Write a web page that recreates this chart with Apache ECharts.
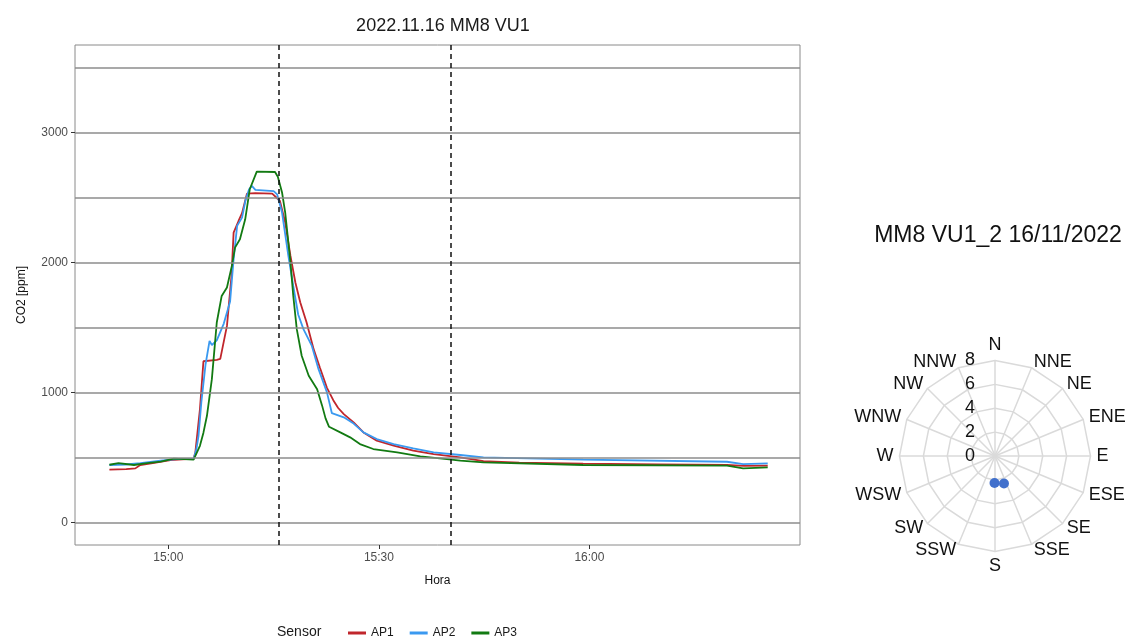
<!DOCTYPE html>
<html>
<head>
<meta charset="utf-8">
<script src="https://cdn.jsdelivr.net/npm/echarts@6/dist/echarts.min.js"></script>
<style>
  html, body { margin: 0; padding: 0; background: #fff; }
  #chart { width: 1129px; height: 638px; }
</style>
</head>
<body>
<div id="chart"></div>
<script>
// times are minutes after 15:00, values are CO2 in ppm
var ap1Time = [-8.4, -6.0, -4.7, -4.0, -2.0, 0.3, 2.0, 3.6, 3.85, 4.5, 5.0, 6.9, 7.4, 8.35, 9.0, 9.3, 10.0, 10.5, 11.2, 12.4, 14.8, 15.5, 15.9, 16.65, 17.4, 18.1, 18.8, 19.7, 20.7, 21.6, 22.6, 23.5, 24.2, 25.0, 26.4, 27.8, 29.7, 32.1, 34.9, 37.8, 41.6, 44.9, 50.0, 59.1, 70.0, 79.6, 82.0, 85.4];
var ap1Co2 = [405, 410, 415, 441, 458, 478, 485, 490, 540, 870, 1240, 1251, 1258, 1512, 1900, 2230, 2320, 2380, 2530, 2535, 2530, 2495, 2474, 2308, 2051, 1846, 1692, 1538, 1333, 1190, 1035, 940, 880, 833, 769, 692, 628, 590, 551, 525, 500, 471, 460, 451, 446, 441, 435, 436];

var ap2Time = [-8.4, -6.0, -4.0, -1.1, 1.2, 3.6, 4.0, 4.3, 4.7, 5.3, 5.87, 6.2, 6.9, 7.9, 8.8, 9.3, 9.8, 10.5, 11.0, 11.5, 11.9, 12.4, 15.0, 15.5, 16.2, 17.1, 17.8, 18.5, 19.25, 20.45, 21.4, 22.6, 23.3, 25.0, 26.4, 27.8, 29.7, 32.1, 34.9, 37.8, 41.6, 44.9, 59.1, 79.6, 81.9, 85.4];
var ap2Co2 = [441, 445, 456, 474, 487, 487, 564, 666, 923, 1215, 1397, 1365, 1400, 1530, 1700, 2025, 2282, 2346, 2480, 2564, 2590, 2560, 2550, 2525, 2385, 2051, 1820, 1600, 1487, 1358, 1179, 1000, 840, 808, 760, 692, 641, 602, 569, 538, 518, 500, 482, 466, 448, 453];

var ap3Time = [-8.4, -7.1, -4.9, -3.0, -1.1, 0.8, 3.6, 3.85, 4.5, 5.0, 5.5, 6.2, 6.9, 7.6, 8.35, 9.05, 9.5, 10.2, 10.95, 11.6, 12.6, 15.2, 15.6, 16.2, 16.65, 17.4, 17.8, 18.3, 19.0, 20.0, 21.2, 21.9, 22.4, 22.9, 24.5, 25.9, 27.3, 29.2, 32.6, 35.9, 39.7, 41.6, 44.9, 59.1, 79.6, 81.9, 85.4];
var ap3Co2 = [443, 456, 441, 456, 467, 490, 482, 487, 589, 690, 820, 1102, 1538, 1743, 1808, 1974, 2115, 2179, 2333, 2564, 2700, 2697, 2660, 2540, 2385, 2000, 1743, 1487, 1282, 1128, 1025, 900, 800, 735, 692, 654, 602, 564, 538, 508, 487, 474, 461, 441, 436, 415, 423];

var hLines = [0, 500, 1000, 1500, 2000, 2500, 3000, 3500];
var yTicks = [0, 1000, 2000, 3000];
var xTicks = [900, 930, 960]; // 15:00, 15:30, 16:00 in minutes of day
var vLines = [15.8, 40.3];    // minutes after 15:00

// wind rose
var directions = ['N', 'NNW', 'NW', 'WNW', 'W', 'WSW', 'SW', 'SSW', 'S', 'SSE', 'SE', 'ESE', 'E', 'ENE', 'NE', 'NNE'];
var windSpeed = [2.26, 2.43];
var windAngle = [181, 162];

var FONT = '"Liberation Sans", Arial, sans-serif';

function toPairs(t, v) {
  return t.map(function (m, i) { return [900 + m, v[i]]; });
}
function hhmm(v) {
  var h = Math.floor(v / 60), m = Math.round(v - h * 60);
  return h + ':' + (m < 10 ? '0' : '') + m;
}

var chart = echarts.init(document.getElementById('chart'));

var option = {
  animation: false,
  textStyle: { fontFamily: FONT },
  title: [
    { text: '2022.11.16 MM8 VU1', left: 438, top: 12, textAlign: 'center',
      textStyle: { fontSize: 18, fontWeight: 'normal', color: '#1a1a1a', fontFamily: FONT } },
    { text: 'MM8 VU1_2 16/11/2022', left: 993, top: 219, textAlign: 'center',
      textStyle: { fontSize: 23, fontWeight: 'normal', color: '#111', fontFamily: FONT } },
    { text: 'Sensor', left: 272, top: 620,
      textStyle: { fontSize: 14, fontWeight: 'normal', color: '#1a1a1a', fontFamily: FONT } }
  ],
  legend: {
    data: ['AP1', 'AP2', 'AP3'],
    left: 343, top: 622,
    icon: 'rect', itemWidth: 18, itemHeight: 3, itemGap: 16,
    textStyle: { fontSize: 12, color: '#1a1a1a', fontFamily: FONT }
  },
  grid: { left: 75, right: 329, top: 45, bottom: 93, show: true, borderColor: '#8a8a8a', borderWidth: 1 },
  xAxis: {
    type: 'value', min: 886.7, max: 990.0,
    name: 'Hora', nameLocation: 'middle', nameGap: 30,
    nameTextStyle: { fontSize: 12, color: '#111', fontFamily: FONT },
    axisLine: { show: false, onZero: false },
    axisTick: { show: true, inside: false, length: 4, customValues: xTicks, lineStyle: { color: '#333', width: 1 } },
    axisLabel: { customValues: xTicks, formatter: hhmm, color: '#4d4d4d', fontSize: 12, margin: 7 },
    splitLine: { show: false }
  },
  yAxis: {
    type: 'value', min: -175, max: 3675,
    name: 'CO2 [ppm]', nameLocation: 'middle', nameGap: 47,
    nameTextStyle: { fontSize: 12, color: '#111', fontFamily: FONT },
    axisLine: { show: false, onZero: false },
    axisTick: { show: true, inside: false, length: 4, customValues: yTicks, lineStyle: { color: '#333', width: 1 } },
    axisLabel: { customValues: yTicks, formatter: function (v) { return String(v); },
      color: '#4d4d4d', fontSize: 12, margin: 7 },
    splitLine: { show: false }
  },
  radar: {
    center: [995, 456], radius: 95.5, startAngle: 90, shape: 'polygon', splitNumber: 4,
    indicator: directions.map(function (d) { return { name: d, min: 0, max: 8 }; }),
    axisName: { color: '#111', fontSize: 18, fontFamily: FONT },
    nameGap: 6,
    splitLine: { lineStyle: { color: '#dadada', width: 1.5 } },
    splitArea: { show: false },
    axisLine: { lineStyle: { color: '#dadada', width: 1.5 } },
    axisTick: { show: false },
    axisLabel: { show: false }
  },
  polar: { center: [995, 456], radius: 95.5 },
  angleAxis: { type: 'value', min: 0, max: 360, startAngle: 90, clockwise: true, show: false },
  radiusAxis: {
    type: 'value', min: 0, max: 8, interval: 2,
    axisLine: { show: false }, axisTick: { show: false }, splitLine: { show: false },
    axisLabel: { color: '#111', fontSize: 18, margin: 20, fontFamily: FONT }
  },
  series: [
    {
      type: 'line', data: [], silent: true, z: 1,
      markLine: {
        silent: true, symbol: 'none', label: { show: false },
        lineStyle: { color: '#8c8c8c', width: 1.5, type: 'solid' },
        data: hLines.map(function (v) { return { yAxis: v }; })
      }
    },
    { name: 'AP1', type: 'line', data: toPairs(ap1Time, ap1Co2), showSymbol: false,
      color: '#c0262c', lineStyle: { width: 1.8 }, z: 3 },
    { name: 'AP2', type: 'line', data: toPairs(ap2Time, ap2Co2), showSymbol: false,
      color: '#3a99f0', lineStyle: { width: 1.8 }, z: 3 },
    { name: 'AP3', type: 'line', data: toPairs(ap3Time, ap3Co2), showSymbol: false,
      color: '#127a12', lineStyle: { width: 1.8 }, z: 3 },
    {
      type: 'line', data: [], silent: true, z: 4,
      markLine: {
        silent: true, symbol: 'none', label: { show: false },
        lineStyle: { color: '#111', width: 1.5, type: [5, 4] },
        data: vLines.map(function (m) { return { xAxis: 900 + m }; })
      }
    },
    {
      type: 'scatter', coordinateSystem: 'polar', symbolSize: 10,
      itemStyle: { color: '#4170cc', opacity: 1 },
      data: windSpeed.map(function (s, i) { return [s, windAngle[i]]; })
    }
  ]
};

chart.setOption(option);
</script>
</body>
</html>
